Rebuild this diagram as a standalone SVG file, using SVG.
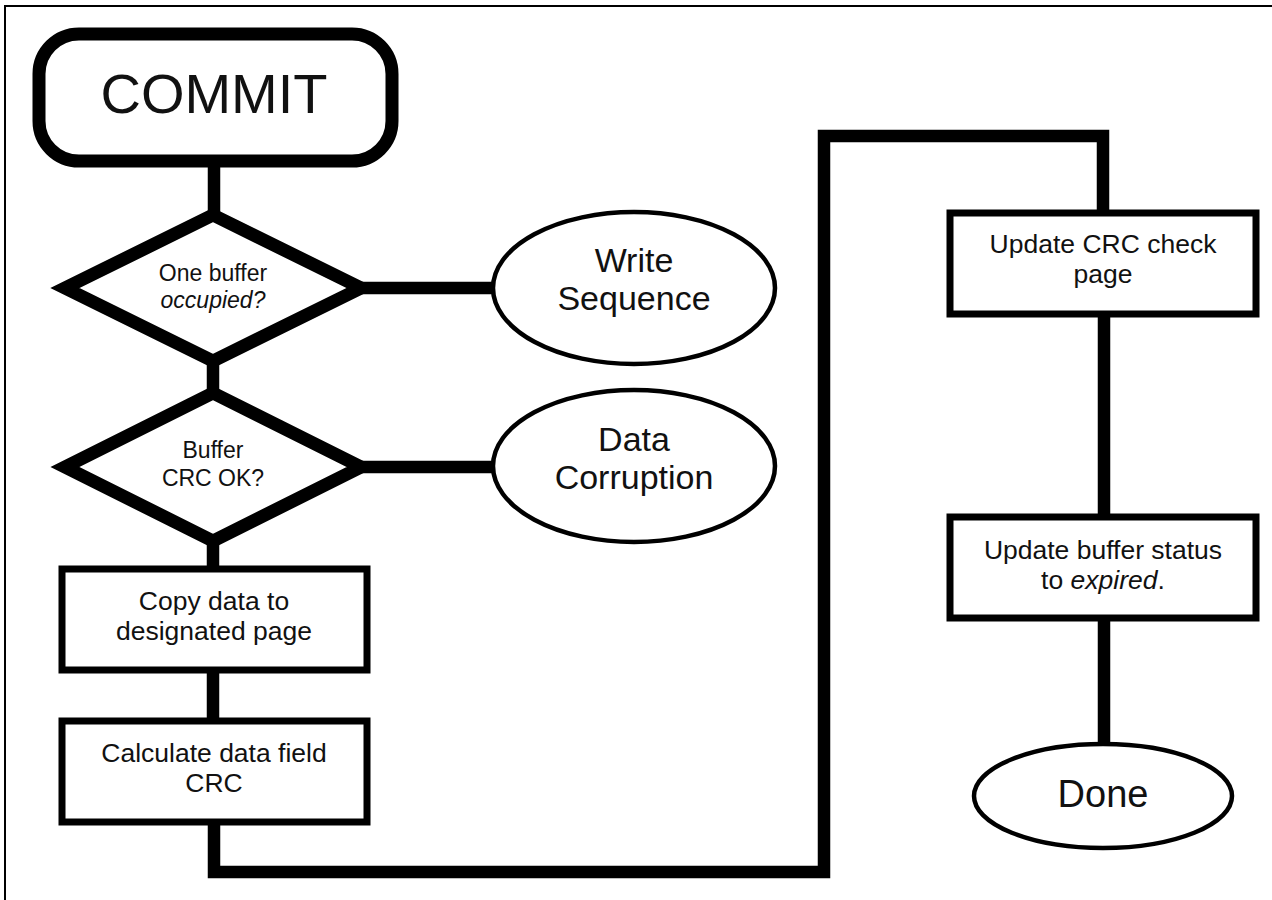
<svg xmlns="http://www.w3.org/2000/svg" width="1272" height="900" viewBox="0 0 1272 900">
<style>
text{font-family:"Liberation Sans",Arial,sans-serif;fill:#111;text-anchor:middle}
.thick{fill:#fff;stroke:#000;stroke-width:13;stroke-linejoin:miter}
.box{fill:#fff;stroke:#000;stroke-width:7}
.oval{fill:#fff;stroke:#000;stroke-width:4.5}
.conn{fill:none;stroke:#000;stroke-width:12.5;stroke-linejoin:miter;stroke-linecap:butt}
.s{font-size:23px}
.m{font-size:26.5px}
.l{font-size:34px}
</style>
<rect x="0" y="0" width="1272" height="900" fill="#fff"/>
<path d="M5,900 V6 H1272" fill="none" stroke="#000" stroke-width="2"/>
<g id="connectors">
<path class="conn" d="M214,160 V216"/>
<path class="conn" d="M213,360 V392"/>
<path class="conn" d="M213,540 V570"/>
<path class="conn" d="M213,670 V721"/>
<path class="conn" d="M214,821 V872 H824 V136 H1103 V214"/>
<path class="conn" d="M1104,313 V518"/>
<path class="conn" d="M1104,617 V745"/>
<path class="conn" d="M358,288 H494"/>
<path class="conn" d="M358,467 H494"/>
</g>
<g id="commit">
<rect class="thick" x="39" y="34" width="353" height="127" rx="40" ry="40"/>
<text x="214" y="113" style="font-size:56px">COMMIT</text>
</g>
<g id="decision-occupied">
<polygon class="thick" points="213,215 361,288 213,361 65,288"/>
<text class="s" x="213" y="281">One buffer</text>
<text class="s" x="213" y="308" font-style="italic">occupied?</text>
</g>
<g id="decision-crc">
<polygon class="thick" points="213,393 361,467 213,541 65,467"/>
<text class="s" x="213" y="458">Buffer</text>
<text class="s" x="213" y="486">CRC OK?</text>
</g>
<g id="write-sequence">
<ellipse class="oval" cx="634" cy="288" rx="141" ry="76"/>
<text class="l" x="634" y="272">Write</text>
<text class="l" x="634" y="310">Sequence</text>
</g>
<g id="data-corruption">
<ellipse class="oval" cx="634" cy="466" rx="141" ry="76"/>
<text class="l" x="634" y="451">Data</text>
<text class="l" x="634" y="489">Corruption</text>
</g>
<g id="copy-data">
<rect class="box" x="62" y="569" width="305" height="101"/>
<text class="m" x="214" y="610">Copy data to</text>
<text class="m" x="214" y="640">designated page</text>
</g>
<g id="calc-crc">
<rect class="box" x="62" y="721" width="305" height="101"/>
<text class="m" x="214" y="762">Calculate data field</text>
<text class="m" x="214" y="792">CRC</text>
</g>
<g id="update-crc">
<rect class="box" x="950" y="213" width="306" height="101"/>
<text class="m" x="1103" y="253">Update CRC check</text>
<text class="m" x="1103" y="283">page</text>
</g>
<g id="update-status">
<rect class="box" x="950" y="517" width="306" height="101"/>
<text class="m" x="1103" y="559">Update buffer status</text>
<text class="m" x="1103" y="589">to <tspan font-style="italic">expired</tspan>.</text>
</g>
<g id="done">
<ellipse class="oval" cx="1103" cy="796" rx="129" ry="52"/>
<text x="1103" y="807" style="font-size:38px">Done</text>
</g>
</svg>
